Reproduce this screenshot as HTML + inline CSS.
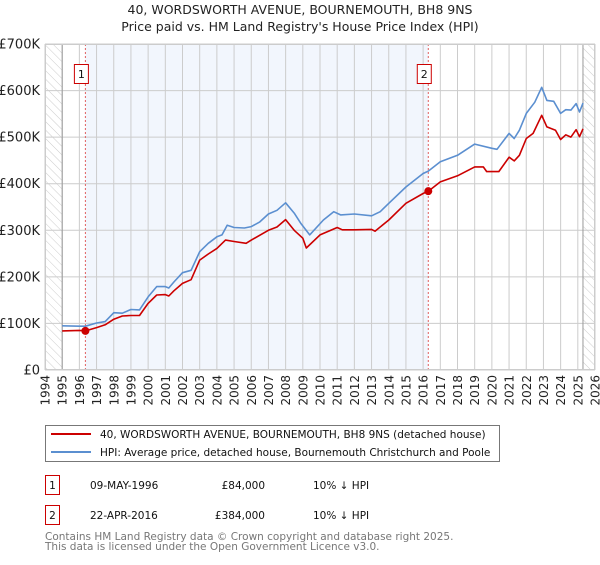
<!DOCTYPE html>
<html><head><meta charset="utf-8"><style>
body{margin:0;background:#fff;font-family:"Liberation Sans","DejaVu Sans",sans-serif;}
svg text{font-family:"DejaVu Sans","Liberation Sans",sans-serif;}
</style></head><body>
<svg id="chart" width="600" height="560" viewBox="0 0 600 560" xmlns="http://www.w3.org/2000/svg">
<defs>
<pattern id="hatch" width="6" height="6" patternUnits="userSpaceOnUse" patternTransform="rotate(-45)">
<line x1="0" y1="0" x2="0" y2="6" stroke="#ccc" stroke-width="1"/>
</pattern>
</defs>
<text x="300" y="14" text-anchor="middle" font-size="12.5" fill="#222">40, WORDSWORTH AVENUE, BOURNEMOUTH, BH8 9NS</text>
<text x="300" y="31" text-anchor="middle" font-size="12.5" fill="#222">Price paid vs. HM Land Registry's House Price Index (HPI)</text>
<g id="plot"></g>
<g>
<rect x="45.5" y="425.5" width="454" height="36" fill="#fff" stroke="#777"/>
<line x1="51" y1="434" x2="91" y2="434" stroke="#cc0000" stroke-width="2"/>
<text x="100" y="438" font-size="10.5" fill="#111">40, WORDSWORTH AVENUE, BOURNEMOUTH, BH8 9NS (detached house)</text>
<line x1="51" y1="452" x2="91" y2="452" stroke="#5b8fd0" stroke-width="2"/>
<text x="100" y="456" font-size="10.5" fill="#111">HPI: Average price, detached house, Bournemouth Christchurch and Poole</text>
</g>
<g font-size="10.5" fill="#111">
<rect x="45.5" y="475.5" width="14" height="19" fill="#fff" stroke="#cc0000"/>
<text x="52.5" y="489" text-anchor="middle">1</text>
<text x="90" y="489">09-MAY-1996</text>
<text x="265" y="489" text-anchor="end">£84,000</text>
<text x="313" y="489">10% ↓ HPI</text>
</g>
<g font-size="10.5" fill="#111">
<rect x="45.5" y="505.5" width="14" height="19" fill="#fff" stroke="#cc0000"/>
<text x="52.5" y="519" text-anchor="middle">2</text>
<text x="90" y="519">22-APR-2016</text>
<text x="265" y="519" text-anchor="end">£384,000</text>
<text x="313" y="519">10% ↓ HPI</text>
</g>
<text x="45" y="540" font-size="10.5" fill="#777">Contains HM Land Registry data © Crown copyright and database right 2025.</text>
<text x="45" y="550" font-size="10.5" fill="#777">This data is licensed under the Open Government Licence v3.0.</text>
</svg>
<script>
const yTicks=[0,100,200,300,400,500,600,700];
const yTickLabels=["£0","£100K","£200K","£300K","£400K","£500K","£600K","£700K"];
const years=[1994,1995,1996,1997,1998,1999,2000,2001,2002,2003,2004,2005,2006,2007,2008,2009,2010,2011,2012,2013,2014,2015,2016,2017,2018,2019,2020,2021,2022,2023,2024,2025,2026];
const hpiT=[1995,1996,1996.35,1997,1997.5,1998,1998.5,1999,1999.5,2000,2000.5,2001,2001.2,2001.5,2002,2002.5,2003,2003.5,2004,2004.3,2004.6,2005,2005.6,2006,2006.5,2007,2007.5,2008,2008.5,2008.9,2009.4,2010.2,2010.8,2011.2,2012,2013,2013.5,2014,2015,2016,2016.3,2017,2018,2019,2020,2020.3,2021,2021.3,2021.6,2022,2022.5,2022.9,2023.2,2023.6,2024,2024.3,2024.6,2024.9,2025.1,2025.3];
const hpiV=[95,94,94,101,104,123,122,130,129,157,179,179,176,189,209,214,254,272,286,290,311,306,305,308,318,335,343,359,337,314,290,322,340,333,335,331,340,358,393,422,427,447,461,485,476,474,508,497,515,551,575,607,579,577,551,559,558,572,554,573];
const saleT=[1995,1996,1996.35,1997,1997.5,1998,1998.5,1999,1999.5,2000,2000.5,2001,2001.2,2001.5,2002,2002.5,2003,2003.5,2004,2004.5,2005,2005.7,2006,2007,2007.5,2008,2008.5,2009,2009.2,2010,2011,2011.3,2012,2013,2013.2,2014,2015,2016,2016.3,2017,2018,2019,2019.5,2019.7,2020.4,2021,2021.3,2021.6,2022,2022.4,2022.9,2023.2,2023.7,2024,2024.3,2024.6,2024.9,2025.1,2025.3];
const saleV=[84,85,84,91,97,109,116,117,117,143,161,162,159,170,186,194,236,249,261,279,276,272,279,300,307,323,300,283,262,290,306,301,301,302,298,322,358,379,384,404,417,436,436,426,426,457,449,461,497,508,547,522,515,495,505,500,516,501,518];
const sales=[{t:1996.35,v:84,label:"1"},{t:2016.3,v:384,label:"2"}];
const X0=45,X1=595,Y0=370,Y1=44;
const x=t=>X0+(t-1994)/(2026-1994)*(X1-X0);
const y=v=>Y0-v/700*(Y0-Y1);
const NS="http://www.w3.org/2000/svg";
const g=document.getElementById('plot');
function mk(tag,attrs,parent){const e=document.createElementNS(NS,tag);for(const k in attrs)e.setAttribute(k,attrs[k]);(parent||g).appendChild(e);return e;}
let r=mk('rect',{x:x(1995),y:Y1,width:x(2025.3)-x(1995),height:Y0-Y1,fill:'#fff'});


r=mk('rect',{x:x(sales[0].t),y:Y1,width:x(sales[1].t)-x(sales[0].t),height:Y0-Y1,fill:'#f2f6fd'});


r=mk('rect',{x:X0,y:Y1,width:x(1995)-X0,height:Y0-Y1,fill:'url(#hatch)'});


r=mk('rect',{x:x(2025.3),y:Y1,width:X1-x(2025.3),height:Y0-Y1,fill:'url(#hatch)'});


years.forEach(yr=>{const l=mk('line',{x1:x(yr),x2:x(yr),y1:Y1,y2:Y0,stroke:'#ccc','stroke-width':1});


const t=mk('text',{x:0,y:0,'font-size':12,fill:'#222','text-anchor':'end',transform:`translate(${x(yr)+4.5},375) rotate(-90)`});
t.textContent=yr;

});
yTicks.forEach((v,i)=>{const l=mk('line',{x1:X0,x2:X1,y1:y(v),y2:y(v),stroke:'#ccc','stroke-width':1});


const t=mk('text',{x:40,y:y(v)+4.5,'font-size':13,fill:'#222','text-anchor':'end'});
t.textContent=yTickLabels[i];

});
[1995,2025.3].forEach(t=>{const l=mk('line',{x1:x(t),x2:x(t),y1:Y1,y2:Y0,stroke:'#999','stroke-width':1});

});
sales.forEach(s=>{const l=mk('line',{x1:x(s.t),x2:x(s.t),y1:Y1,y2:Y0,stroke:'#e06060','stroke-width':1,'stroke-dasharray':'2,2'});


const b=mk('rect',{x:x(s.t)-11,y:64.5,width:14,height:19,fill:'#fff',stroke:'#cc0000'});


const t=mk('text',{x:x(s.t)-4,y:78,'font-size':11,fill:'#111','text-anchor':'middle'});
t.textContent=s.label;

});
function line(T,V,col,name){const p=mk('polyline',{points:T.map((t,i)=>x(t).toFixed(1)+','+y(V[i]).toFixed(1)).join(' '),fill:'none',stroke:col,'stroke-width':1.6,'stroke-linejoin':'round'});

}
line(hpiT,hpiV,'#5b8fd0','hpi-line');
line(saleT,saleV,'#cc0000','price-paid-line');
sales.forEach(s=>{const c=mk('circle',{cx:x(s.t),cy:y(s.v),r:4,fill:'#cc0000'});

});
const f=mk('rect',{x:X0+0.5,y:Y1+0.5,width:X1-X0-1,height:Y0-Y1-1,fill:'none',stroke:'#ccc'});


</script>
</body></html>
